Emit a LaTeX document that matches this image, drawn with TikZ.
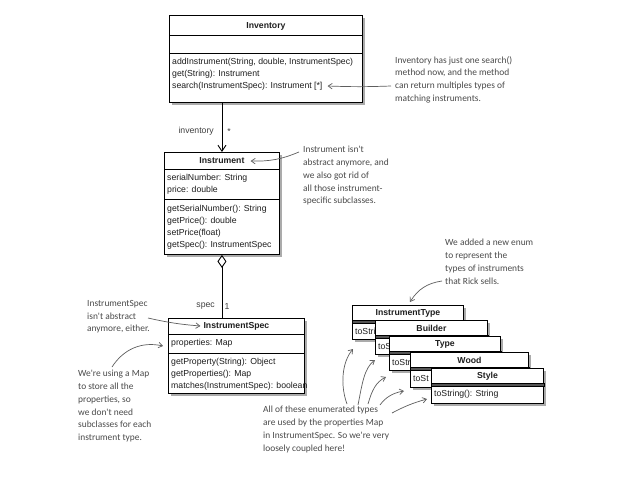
\documentclass[tikz,border=0pt]{standalone}
\usepackage{fontspec}
\setmainfont{Liberation Sans}
\newfontfamily\handfont{Carlito}
\usetikzlibrary{arrows.meta,shadows,calc}
\definecolor{notegray}{HTML}{4A4A4A}
\definecolor{arrgray}{HTML}{5E5E5E}
\definecolor{bargray}{HTML}{555555}
\definecolor{umltext}{HTML}{1E1E1E}
\tikzset{
  umlbox/.style={draw=black, line width=0.9pt, fill=white, inner sep=0pt, anchor=north west,
    drop shadow={shadow xshift=2.5pt, shadow yshift=-2.5pt, fill=black!60, opacity=0.55}},
  sepline/.style={line width=0.6pt},
  ttl/.style={font=\fontsize{8.7}{10}\selectfont\bfseries, text=umltext, inner sep=0pt},
  row/.style={font=\fontsize{8.7}{10}\selectfont, text=umltext, inner sep=0pt, anchor=west},
  lbl/.style={font=\fontsize{8.7}{10}\selectfont, text=black!75, inner sep=0pt},
  note/.style={font=\handfont\fontsize{9.4}{12.8}\selectfont, text=notegray, align=left, inner sep=0pt, anchor=north west},
  notearrow/.style={draw=arrgray, line width=0.7pt, -{Straight Barb[length=4pt,width=5.5pt]}},
  assoc/.style={line width=0.9pt},
}
% name, x, y, width, height, title, visible width of the lower row, visible row text
\newcommand\myenum[8]{%
  \node[umlbox, minimum width=#4pt, minimum height=#5pt] (#1) at (#2,#3) {};
  \filldraw[sepline, fill=bargray] ($(#1.north west)+(0,15)$) rectangle ($(#1.north east)+(0,18)$);
  \node[ttl] (#1t) at ($(#1.north)+(0,8)$) {#6};
  \begin{scope}
    \clip ($(#1.north west)+(0,18)$) rectangle ($(#1.south west)+(#7,0)$);
    \node[row] (#1r) at ($(#1.north west)+(3,26.5)$) {#8};
  \end{scope}
}
\begin{document}
\begin{tikzpicture}[x=1pt,y=-1pt]
\useasboundingbox (0,0) rectangle (628,477);
\fill[white] (0,0) rectangle (628,477);

% Inventory
\node[umlbox, minimum width=193pt, minimum height=87pt] (inv) at (169,15) {};
\draw[sepline] ($(inv.north west)+(0,20)$) -- ($(inv.north east)+(0,20)$);
\draw[sepline] ($(inv.north west)+(0,38)$) -- ($(inv.north east)+(0,38)$);
\node[ttl] (invt) at ($(inv.north)+(0,11)$) {Inventory};
\node[row] (inv1) at (172,62) {addInstrument(String, double, InstrumentSpec)};
\node[row] (inv2) at (172,74) {get(String): Instrument};
\node[row] (inv3) at (172,86) {search(InstrumentSpec): Instrument [*]};

% Instrument
\node[umlbox, minimum width=115pt, minimum height=102pt] (inst) at (164,152) {};
\draw[sepline] ($(inst.north west)+(0,17)$) -- ($(inst.north east)+(0,17)$);
\draw[sepline] ($(inst.north west)+(0,47)$) -- ($(inst.north east)+(0,47)$);
\node[ttl] (instt) at ($(inst.north)+(0,9)$) {Instrument};
\node[row] (inst1) at (167,178) {serialNumber: String};
\node[row] (inst2) at (167,190) {price: double};
\node[row] (inst3) at (167,209) {getSerialNumber(): String};
\node[row] (inst4) at (167,221) {getPrice(): double};
\node[row] (inst5) at (167,233) {setPrice(float)};
\node[row] (inst6) at (167,245) {getSpec(): InstrumentSpec};

% InstrumentSpec
\node[umlbox, minimum width=136pt, minimum height=75pt] (spec) at (168,318) {};
\draw[sepline] ($(spec.north west)+(0,16)$) -- ($(spec.north east)+(0,16)$);
\draw[sepline] ($(spec.north west)+(0,35)$) -- ($(spec.north east)+(0,35)$);
\node[ttl] (spect) at ($(spec.north)+(0,8)$) {InstrumentSpec};
\node[row] (spec1) at (171,343) {properties: Map};
\node[row] (spec2) at (171,362) {getProperty(String): Object};
\node[row] (spec3) at (171,374) {getProperties(): Map};
\node[row] (spec4) at (171,386) {matches(InstrumentSpec): boolean};

% associations
\draw[assoc, -{Straight Barb[length=6pt,width=8pt]}] (inst.north |- inv.south) -- (inst.north);
\node[lbl, anchor=east] (lblinv) at (214,131) {inventory};
\node[lbl] (lblstar) at (229,132) {*};
\draw[assoc, {Diamond[open,fill=white,length=13pt,width=9pt]}-] (inst.south) -- (inst.south |- spec.north);
\node[lbl, anchor=east] (lblspec) at (215,306) {spec};
\node[lbl] (lblone) at (227,306) {1};

% enums
\myenum{it}{352}{305}{111}{34}{InstrumentType}{23}{toStri}
\myenum{bld}{375}{320}{112}{34}{Builder}{14}{toS}
\myenum{typ}{389}{336}{111}{34}{Type}{21}{toStr}
\myenum{wood}{410}{352}{118}{35}{Wood}{21}{toSt}
\myenum{sty}{431}{368}{112}{35}{Style}{112}{toString(): String}

% notes
\node[note] (n1) at (395,56) {Inventory has just one search()\\method now, and the method\\can return multiples types of\\matching instruments.};
\draw[notearrow] ($(n1.north west)+(-4,30)$) to[bend left=2] ($(inv3.east)+(5,0)$);

\node[note] (n2) at (303,146) {Instrument isn't\\abstract anymore, and\\we also got rid of\\all those instrument-\\specific subclasses.};
\draw[notearrow] (299,152) to[bend left=12] ($(instt.east)+(6,0)$);

\node[note] (n3) at (445,239) {We added a new enum\\to represent the\\types of instruments\\that Rick sells.};
\draw[notearrow] (442,281) to[bend right=25] (410,302);

\node[note] (n4) at (87,300) {InstrumentSpec\\isn't abstract\\anymore, either.};
\draw[notearrow] (148,318) to[bend right=4] ($(spect.west)+(-3,0)$);

\node[note] (n5) at (78,370) {We're using a Map\\to store all the\\properties, so\\we don't need\\subclasses for each\\instrument type.};
\draw[notearrow] (112,367) to[bend left=35] (163,346);

\node[note] (n6) at (263,406) {All of these enumerated types\\are used by the properties Map\\in InstrumentSpec. So we're very\\loosely coupled here!};
\coordinate (e1) at (353,349);
\coordinate (e2) at (375,360);
\coordinate (e3) at (386,377);
\coordinate (e4) at (404,391);
\coordinate (e5) at (427,399);
\draw[notearrow] (347,404) .. controls (340,385) and (342,362) .. (e1);
\draw[notearrow] (358,405) .. controls (362,385) and (364,368) .. (e2);
\draw[notearrow] (368,404) .. controls (372,390) and (376,382) .. (e3);
\draw[notearrow] (380,405) .. controls (385,398) and (392,393) .. (e4);
\draw[notearrow] (392,413) to[bend left=6] (e5);
\end{tikzpicture}
\end{document}
